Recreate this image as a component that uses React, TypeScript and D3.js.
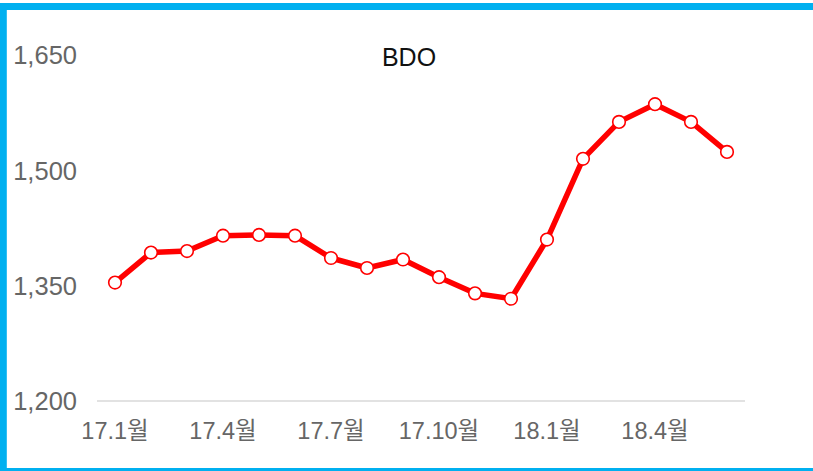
import React, { useEffect, useRef } from 'react';
import * as d3 from 'd3';

const months = [
  '17.1월', '17.2월', '17.3월', '17.4월', '17.5월', '17.6월',
  '17.7월', '17.8월', '17.9월', '17.10월', '17.11월', '17.12월',
  '18.1월', '18.2월', '18.3월', '18.4월', '18.5월', '18.6월',
];
const bdoValues = [
  1354, 1393, 1395, 1415, 1416, 1415,
  1386, 1373, 1384, 1361, 1340, 1333,
  1410, 1515, 1563, 1586, 1563, 1524,
];
const yTicks = [1200, 1350, 1500, 1650];
const xTickLabels = ['17.1월', '17.4월', '17.7월', '17.10월', '18.1월', '18.4월'];

const App = () => {
  const svgRef = useRef<SVGSVGElement>(null);

  useEffect(() => {
    const svg = d3.select(svgRef.current);
    svg.selectAll('*').remove();

    const width = 813;
    const height = 471;
    const font = '"Liberation Sans", "Noto Sans CJK KR", sans-serif';

    svg.append('rect').attr('width', width).attr('height', height).attr('fill', '#fff');

    // blue frame (right side falls outside the picture)
    svg.append('rect')
      .attr('x', 3.3).attr('y', 6.5)
      .attr('width', width + 20).attr('height', 465)
      .attr('fill', 'none')
      .attr('stroke', '#00b0f0')
      .attr('stroke-width', 7);

    const x = d3.scaleBand()
      .domain(months)
      .range([97, 745]);

    const y = d3.scaleLinear()
      .domain([1200, 1650])
      .range([401, 55]);

    const cx = (d: string) => (x(d) as number) + x.bandwidth() / 2;

    // baseline
    svg.append('line')
      .attr('x1', 97).attr('x2', 745)
      .attr('y1', y(1200)).attr('y2', y(1200))
      .attr('stroke', '#d9d9d9')
      .attr('stroke-width', 1.5);

    // y labels
    svg.append('g')
      .selectAll('text')
      .data(yTicks)
      .join('text')
      .attr('x', 77)
      .attr('y', d => y(d))
      .attr('dy', '0.36em')
      .attr('text-anchor', 'end')
      .attr('font-family', font)
      .attr('font-size', 25.5)
      .attr('fill', '#666')
      .text(d => d3.format(',')(d));

    // x labels
    svg.append('g')
      .selectAll('text')
      .data(xTickLabels)
      .join('text')
      .attr('x', d => cx(d))
      .attr('y', 431)
      .attr('dy', '0.36em')
      .attr('text-anchor', 'middle')
      .attr('font-family', font)
      .attr('font-size', 23.5)
      .attr('fill', '#666')
      .text(d => d);

    // title
    svg.append('text')
      .attr('x', 409)
      .attr('y', 57)
      .attr('dy', '0.36em')
      .attr('text-anchor', 'middle')
      .attr('font-family', font)
      .attr('font-size', 25)
      .attr('fill', '#111')
      .text('BDO');

    const line = d3.line<number>()
      .x((_, i) => cx(months[i]))
      .y(d => y(d));

    svg.append('path')
      .datum(bdoValues)
      .attr('d', line)
      .attr('fill', 'none')
      .attr('stroke', '#ff0000')
      .attr('stroke-width', 5.5)
      .attr('stroke-linejoin', 'round');

    svg.append('g')
      .selectAll('circle')
      .data(bdoValues)
      .join('circle')
      .attr('cx', (_, i) => cx(months[i]))
      .attr('cy', d => y(d))
      .attr('r', 6.3)
      .attr('fill', '#fff')
      .attr('stroke', '#ff0000')
      .attr('stroke-width', 1.6);
  }, []);

  return (
    <div style={{ position: 'fixed', left: 0, top: 0 }}>
      <svg ref={svgRef} width="813" height="471" style={{ display: 'block' }}></svg>
    </div>
  );
};

export default App;
